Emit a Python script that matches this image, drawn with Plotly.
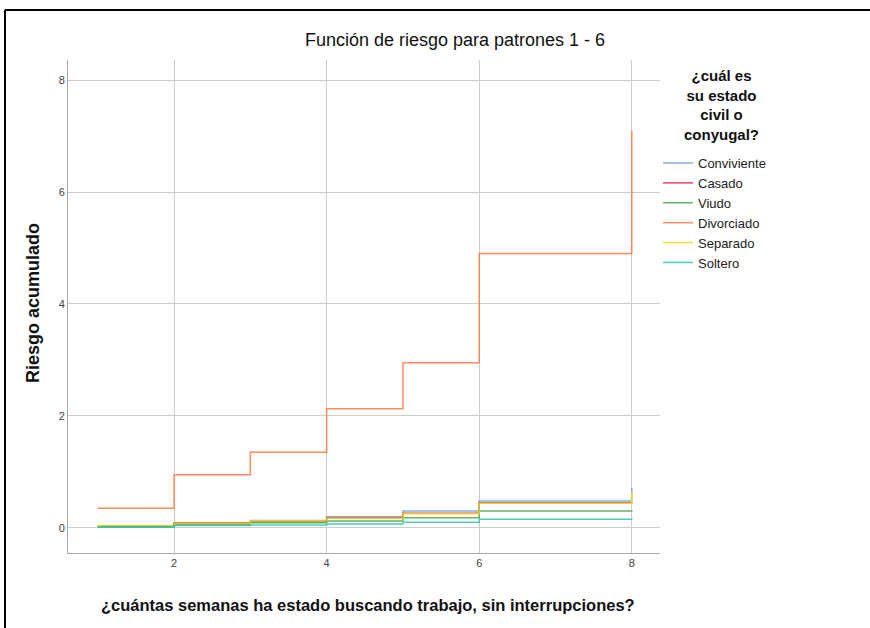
import plotly.graph_objects as go

weeks = [1, 2, 3, 4, 5, 6, 8]
series_names = ["Conviviente", "Casado", "Viudo", "Divorciado", "Separado", "Soltero"]
conviviente = [0.02, 0.08, 0.13, 0.20, 0.30, 0.48, 0.71]
casado = [0.03, 0.09, 0.11, 0.18, 0.26, 0.45, 0.46]
viudo = [0.02, 0.06, 0.09, 0.12, 0.18, 0.30, 0.32]
divorciado = [0.35, 0.95, 1.35, 2.13, 2.95, 4.90, 7.10]
separado = [0.04, 0.08, 0.12, 0.17, 0.25, 0.44, 0.65]
soltero = [0.015, 0.04, 0.05, 0.07, 0.10, 0.155, 0.17]
colors = ["#6FA0E8", "#E8204F", "#4FA84A", "#FF7A45", "#E8DC1A", "#2EC4B0"]
x_ticks = [2, 4, 6, 8]
y_ticks = [0, 2, 4, 6, 8]

values = [conviviente, casado, viudo, divorciado, separado, soltero]

# plot area: x 68..660, y 60..553
L, R, T, B = 68, 210, 60, 75
PW = 870 - L - R
PH = 628 - T - B


def px_to_paper_x(px):
    return (px - L) / PW


def px_to_paper_y(py):
    return (628 - B - py) / PH


fig = go.Figure()
for name, vals, col in zip(series_names, values, colors):
    fig.add_trace(go.Scatter(
        x=weeks, y=vals, name=name, mode="lines",
        line=dict(shape="hv", color=col, width=1.5),
        opacity=0.85,
    ))

font_fam = "Liberation Sans, Arial"

fig.update_layout(
    width=870, height=628,
    margin=dict(l=L, r=R, t=T, b=B, autoexpand=False),
    paper_bgcolor="white", plot_bgcolor="white",
    font=dict(family=font_fam, color="#222"),
    title=dict(text="Función de riesgo para patrones 1 - 6", x=455 / 870, xanchor="center",
               y=1 - 40 / 628, yanchor="middle", yref="container",
               font=dict(size=18, family=font_fam, color="#111")),
    xaxis=dict(range=[0.61, 8.37], tickvals=x_ticks, showgrid=True, gridcolor="#CCCCCC",
               gridwidth=1, zeroline=False, showline=True, linecolor="#AAAAAA", linewidth=1,
               ticks="", automargin=False,
               tickfont=dict(size=11, color="#444", family=font_fam)),
    yaxis=dict(range=[-0.45, 8.36], tickvals=y_ticks, showgrid=True, gridcolor="#CCCCCC",
               gridwidth=1, zeroline=False, showline=True, linecolor="#AAAAAA", linewidth=1,
               ticks="", automargin=False,
               tickfont=dict(size=11, color="#444", family=font_fam)),
    showlegend=True,
    legend=dict(x=px_to_paper_x(658), xanchor="left", y=px_to_paper_y(148), yanchor="top",
                font=dict(size=13, family=font_fam, color="#222"),
                tracegroupgap=0, itemwidth=30, bgcolor="rgba(0,0,0,0)"),
    annotations=[
        dict(text="<b>¿cuál es<br>su estado<br>civil o<br>conyugal?</b>", xref="paper", yref="paper",
             x=px_to_paper_x(721), y=px_to_paper_y(65), xanchor="center", yanchor="top",
             align="center", showarrow=False,
             font=dict(size=15, family=font_fam, color="#111")),
        dict(text="<b>¿cuántas semanas ha estado buscando trabajo, sin interrupciones?</b>",
             xref="paper", yref="paper", x=px_to_paper_x(368), y=px_to_paper_y(605),
             xanchor="center", yanchor="middle", showarrow=False,
             font=dict(size=16.5, family=font_fam, color="#111")),
        dict(text="<b>Riesgo acumulado</b>", xref="paper", yref="paper",
             x=px_to_paper_x(33), y=px_to_paper_y(303), xanchor="center", yanchor="middle",
             textangle=-90, showarrow=False,
             font=dict(size=18, family=font_fam, color="#111")),
    ],
    shapes=[
        dict(type="line", xref="paper", yref="paper", x0=px_to_paper_x(5), x1=px_to_paper_x(876),
             y0=px_to_paper_y(10), y1=px_to_paper_y(10), line=dict(color="black", width=2)),
        dict(type="line", xref="paper", yref="paper", x0=px_to_paper_x(5), x1=px_to_paper_x(5),
             y0=px_to_paper_y(10), y1=px_to_paper_y(632), line=dict(color="black", width=2)),
    ],
)

fig.write_html("out.html", config={"displayModeBar": False},
               post_script="document.body.style.margin='0';document.body.style.overflow='hidden';"
                           "document.documentElement.style.overflow='hidden';")
